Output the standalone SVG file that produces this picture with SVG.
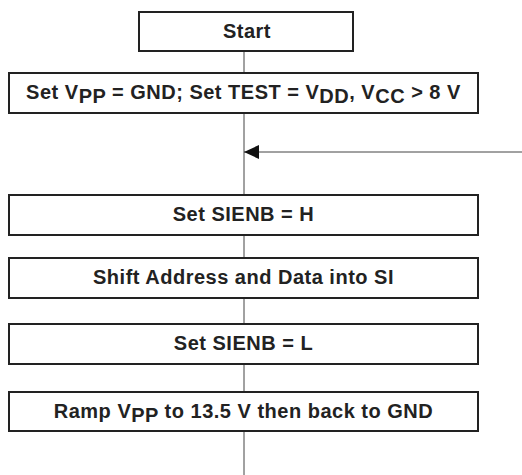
<svg xmlns="http://www.w3.org/2000/svg" width="522" height="475" viewBox="0 0 522 475">
<style>
.box{fill:#fff;stroke:#222;stroke-width:2}
.t{font-family:"Liberation Sans",Arial,sans-serif;font-weight:bold;font-size:20px;letter-spacing:0.5px;fill:#222;text-anchor:middle}
.c{stroke:#444;stroke-width:1;fill:none}
</style>
<defs>
<marker id="ah" markerWidth="16" markerHeight="14" refX="15" refY="7" orient="auto" markerUnits="userSpaceOnUse">
<path d="M0,0 L15,7 L0,14 Z" fill="#111"/>
</marker>
</defs>
<g id="connectors">
<line class="c" x1="244" y1="51" x2="244" y2="73"/>
<line class="c" x1="244" y1="113" x2="244" y2="195"/>
<line class="c" x1="522" y1="152" x2="244" y2="152" marker-end="url(#ah)"/>
<line class="c" x1="244" y1="235" x2="244" y2="258"/>
<line class="c" x1="244" y1="298" x2="244" y2="324"/>
<line class="c" x1="244" y1="364" x2="244" y2="392"/>
<line class="c" x1="244" y1="431" x2="244" y2="475"/>
</g>
<g id="start">
<rect class="box" x="139" y="12" width="214" height="39"/>
<text class="t" x="247" y="37.5">Start</text>
</g>
<g id="setvpp">
<rect class="box" x="9" y="73" width="469" height="40"/>
<text class="t" x="243.5" y="98.5">Set V<tspan dy="4">PP</tspan><tspan dy="-4"> = GND; Set TEST = V</tspan><tspan dy="4">DD</tspan><tspan dy="-4">, V</tspan><tspan dy="4">CC</tspan><tspan dy="-4"> &gt; 8 V</tspan></text>
</g>
<g id="sienbh">
<rect class="box" x="9" y="195" width="469" height="40"/>
<text class="t" x="243.5" y="220.5">Set SIENB = H</text>
</g>
<g id="shift">
<rect class="box" x="9" y="258" width="469" height="40"/>
<text class="t" x="243.5" y="283.5">Shift Address and Data into SI</text>
</g>
<g id="sienbl">
<rect class="box" x="9" y="324" width="469" height="40"/>
<text class="t" x="243.5" y="349.5">Set SIENB = L</text>
</g>
<g id="ramp">
<rect class="box" x="9" y="392" width="469" height="39"/>
<text class="t" x="243.5" y="417.5">Ramp V<tspan dy="4">PP</tspan><tspan dy="-4"> to 13.5 V then back to GND</tspan></text>
</g>
</svg>
